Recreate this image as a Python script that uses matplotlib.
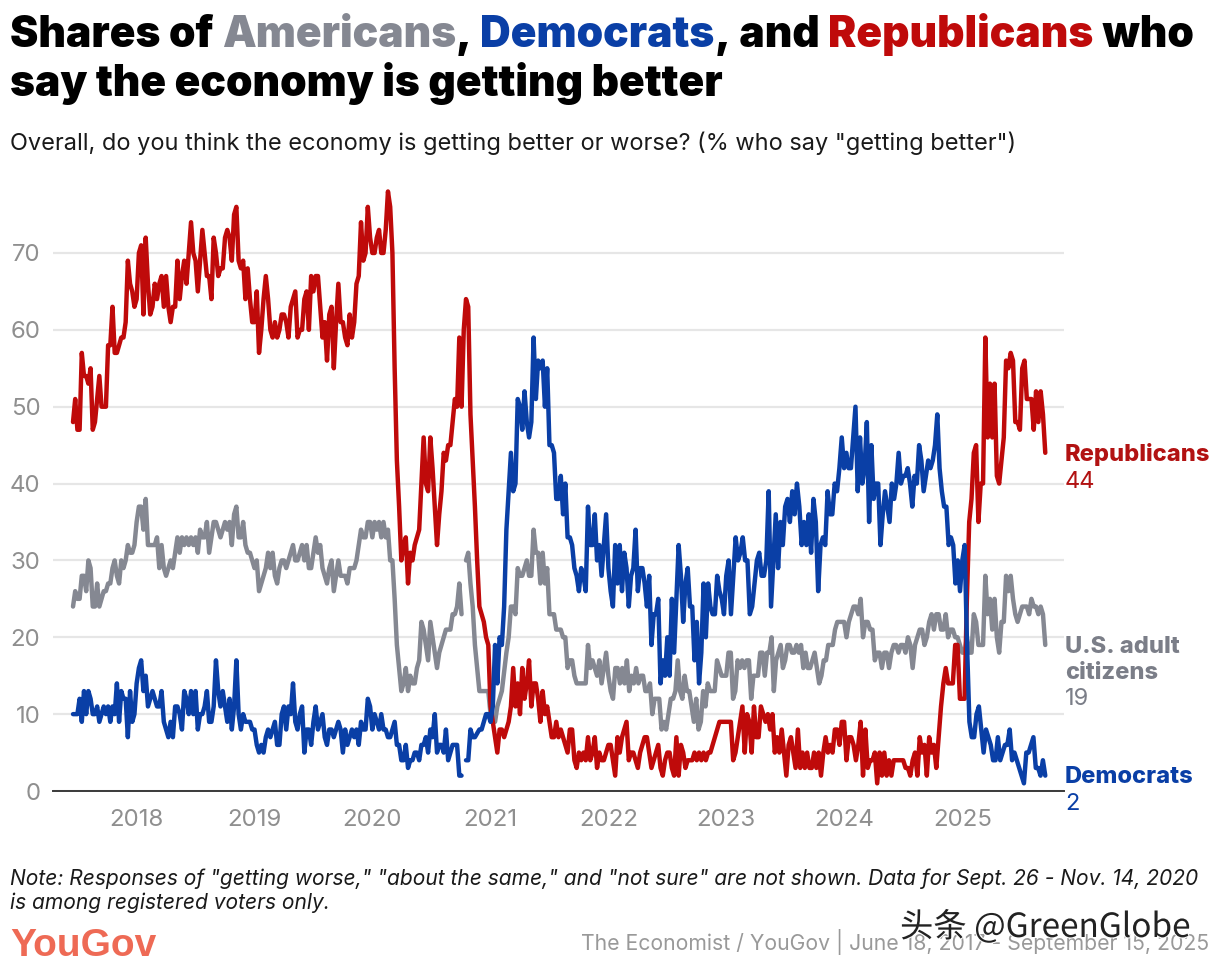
import numpy as np
import pandas as pd
import matplotlib
matplotlib.use('Agg')
import matplotlib.pyplot as plt
import matplotlib.dates as mdates
import matplotlib.patheffects as pe

nan = float('nan')

# weekly readings, one list per calendar year
rep_2017 = [48,51,47,47,57,54,54,53,55,47,48,51,54,50,50,50,58,58,63,57,57,58,59,59,61,69,66,65,63]
rep_2018 = [64,70,71,62,72,66,62,63,66,64,66,67,63,67,63,61,63,63,69,64,67,69,66,70,74,70,69,65,69,73,70,67,67,64,72,70,67,68,68,72,73,72,69,75,76,69,68,69,64,68,64,61]
rep_2019 = [61,65,57,60,64,67,64,60,59,61,59,60,62,62,61,59,63,64,65,59,60,60,64,65,60,67,65,67,67,63,59,61,56,62,63,55,61,66,61,61,59,58,62,59,61,66,67,74,69,70,76,72]
rep_2020 = [70,70,72,73,70,70,73,78,76,70,55,43,37,30,32,33,27,31,30,32,33,34,40,46,40,39,46,42,37,32,36,39,44,43,45,45,48,51,50,59,50,60,64,63,49,43,37,30,24,23,22,20,19]
rep_2021 = [11,9,7,5,8,8,7,8,9,11,16,11,14,10,16,12,14,17,11,14,14,12,9,13,10,11,9,7,7,9,7,8,7,6,5,8,8,4,3,5,4,5,4,7,4,5,7,3,5,4,4,5]
rep_2022 = [6,6,4,2,7,5,7,8,9,4,5,5,4,3,5,6,7,7,5,3,4,5,6,3,2,4,5,5,3,2,7,2,6,5,3,4,4,4,5,4,5,4,5,4,5,5,6,7,8,9,9,9]
rep_2023 = [9,9,9,4,5,7,9,11,5,10,9,5,11,7,7,11,10,9,10,8,10,5,7,5,8,5,2,6,7,5,3,8,3,5,3,5,3,3,5,3,5,2,5,7,5,6,5,8,8,6,9]
rep_2024 = [9,4,7,7,6,4,6,9,2,8,3,4,4,5,1,5,2,5,2,4,2,4,4,4,4,4,3,3,2,4,5,2,7,5,6,2,7,5,6,3,7,11,14,16,14,14,14,19,19,12]
rep_2025 = [12,12,25,35,38,44,45,35,40,40,59,46,53,46,53,41,40,43,46,56,55,57,56,48,48,47,55,56,51,51,51,47,52,48,52,49,44]

adult_2017 = [24,26,25,25,28,28,26,30,29,24,24,27,24,25,26,26,27,27,29,30,28,27,30,29,30,32,31,31,32]
adult_2018 = [35,37,37,34,38,32,32,32,32,33,29,32,29,28,29,30,29,31,33,31,33,32,33,32,33,32,33,31,34,33,33,35,31,33,35,35,34,33,34,35,34,35,32,36,37,33,33,35,32,31,31,30]
adult_2019 = [29,30,26,27,28,29,31,29,31,28,27,29,30,30,29,30,31,32,30,30,31,32,30,32,29,29,31,33,31,32,29,28,27,29,30,26,28,30,28,28,28,27,29,29,29,30,32,34,33,33,35,35]
adult_2020 = [33,35,34,35,33,35,33,34,30,30,25,19,16,13,14,16,13,15,14,14,16,17,22,21,19,17,22,20,18,16,18,19,20,21,21,21,23,23,24,27,23,nan,30,31,27,24,19,16,13,13,13,13,13]
adult_2021 = [10,9.5,9,11,12,13,15.5,18,20,24,24,23,29,28,28,29,30,28,28,34,31,31,27,31,27,29,23,23,23,21,21,21,20,20,16,17,17,15,14,14,14,14,14,19,16,17,16,15,17,14,16,18]
adult_2022 = [15,13,12,16,16,14,16,14,17,13,15,14,16,14,15,15,13,13,14,10,12,12,12,8,9,8,10,12,12,13,17,13,12,15,13,13,11,9,12,8,9,13,11,14,13,13,13,17,16,15,15]
adult_2023 = [15,18,18,12,13,17,16,17,16,17,17,12,15,15,15,18,18,15,18,18,20,13,17,18,19,16,17,19,19,18,18,19,18,19,16,18,16,16,17,18,16,14,15,17,17,19,19,19,21,22,22,22]
adult_2024 = [22,20,22,23,24,24,23,25,20,22,22,21,21,17,18,18,16,18,18,16,18,19,19,18,19,19,18,20,19,16,19,20,21,21,19,20,22,23,21,23,23,21,21,23,20,21,21,20,20,19]
adult_2025 = [18,18,20,18,18,23,22,19,19,19,28,23,25,21,25,20,18,22,22,28,26,28,25,23,22,23,24,24,24,23,25,24,24,23,24,23,19]

dem_2017 = [10,10,10,12,9,13,10,13,12,10,10,11,9,10,11,10,11,9,11,10,14,9,13,12,12,7,13,9,10]
dem_2018 = [14,16,17,13,15,11,12,13,12,11,11,13,9,8,7,9,7,11,11,10,8,13,12,10,13,10,13,8,10,10,11,13,9,9,11,17,13,11,13,11,9,12,8,11,17,10,8,10,9,9,9,8]
dem_2019 = [8,6,5,6,5,7,8,7,8,9,6,6,10,11,8,11,10,14,9,8,10,11,5,8,8,6,9,11,8,9,10,7,6,8,8,7,8,9,8,5,8,6,7,8,7,8,6,9,8,8,12,11]
dem_2020 = [8,10,9,8,10,8,8,7,7,8,9,6,6,4,4,6,3,4,4,5,5,4,6,6,7,5,8,7,10,5,6,6,5,8,4,5,6,6,6,2,2,nan,4,4,8,7,7,7.5,8,8,9,10,10]
dem_2021 = [9,11,19,14,20,19,24,34,39,44,39,40,51,50,47,52,48,46,48,59,51,56,55,56,50,55,45,45,44,38,38,41,36,40,33,33,32,29,28,26,29,28,26,37,32,32,36,30,32,28,32,36]
dem_2022 = [29,26,24,32,27,32,26,31,29,24,28,29,34,26,29,29,27,24,28,19,23,23,25,14,17,15,20,15,25,18,25,32,28,22,27,29,24,24,17,22,14,18,27,20,27,24,23,23,28,26,25,23]
dem_2023 = [28,30,23,28,33,30,31,33,30,30,23,24,27,30,31,28,28,30,39,24,30,36,29,35,32,37,38,35,39,36,40,37,32,35,32,36,31,38,35,26,32,33,32,39,36,36,40,39,42,46]
dem_2024 = [42,44,42,42,46,50,39,46,40,42,48,35,45,38,40,40,32,36,39,37,35,40,38,40,44,40,41,41,42,40,37,41,40,45,43,39,41,43,42,43,45,49,42,39,37,37,32,33,32,27,30,26]
dem_2025 = [30,32,19,9,7,7,10,11,8,5,8,7,6,4,4,7,4,5,6,6,8,4,5,4,3,2,1,5,5,6,7,3,3,2,4,2]

year_starts = ['2017-06-18','2018-01-01','2019-01-01','2020-01-01','2021-01-01','2022-01-01','2023-01-01','2024-01-01','2025-01-01','2025-09-15']
tick_years = [2018,2019,2020,2021,2022,2023,2024,2025]
y_ticks = [0,10,20,30,40,50,60,70]

RED = '#bf0a0a'
BLUE = '#0a3fa6'
GREY = '#858892'
FONT = ['Inter', 'DejaVu Sans']
W, H = 1220, 972

def series(*years):
    # spread each year's readings evenly over that year
    xs, ys = [], []
    for i, vals in enumerate(years):
        last = i == len(years) - 1
        d = pd.date_range(year_starts[i], year_starts[i + 1], periods=len(vals) + (0 if last else 1))
        xs.extend(d[:len(vals)])
        ys.extend(vals)
    return xs, ys

plt.rcParams['font.family'] = FONT
fig = plt.figure(figsize=(W / 100, H / 100), dpi=100, facecolor='white')
ax = fig.add_axes([53 / W, 1 - 791 / H, 1011 / W, 620 / H])

for vals, col in [((adult_2017, adult_2018, adult_2019, adult_2020, adult_2021, adult_2022, adult_2023, adult_2024, adult_2025), GREY),
                  ((rep_2017, rep_2018, rep_2019, rep_2020, rep_2021, rep_2022, rep_2023, rep_2024, rep_2025), RED),
                  ((dem_2017, dem_2018, dem_2019, dem_2020, dem_2021, dem_2022, dem_2023, dem_2024, dem_2025), BLUE)]:
    x, y = series(*vals)
    ax.plot(x, y, color=col, lw=3.2, solid_joinstyle='round', solid_capstyle='round', zorder=3, clip_on=False)

ax.set_xlim(pd.Timestamp('2017-04-17'), pd.Timestamp('2025-11-12'))
ax.set_ylim(0, 620 / 7.686)
ax.set_yticks(y_ticks)
ax.set_xticks([pd.Timestamp(f'{yr}-01-01') for yr in tick_years])
ax.xaxis.set_major_formatter(mdates.DateFormatter('%Y'))
ax.grid(axis='y', color='#e6e6e6', lw=1.6, zorder=0)
ax.set_axisbelow(True)
for side in ['top', 'left', 'right']:
    ax.spines[side].set_visible(False)
ax.spines['bottom'].set_color('#3a3a3a')
ax.spines['bottom'].set_linewidth(1.4)
ax.tick_params(axis='both', length=0, labelsize=17.3, labelcolor='#8f8f8f')
ax.tick_params(axis='y', pad=9)
ax.tick_params(axis='x', pad=13)

def px_text(x, y, s, **kw):
    return fig.text(x / W, 1 - y / H, s, **kw)

# title with coloured words
def run(x, y, parts):
    r = fig.canvas.get_renderer()
    for s, col in parts:
        t = px_text(x, y, s, color=col, fontsize=30.6, fontweight='black', va='baseline', ha='left')
        x += t.get_window_extent(r).width

run(10, 47, [('Shares of ', 'black'), ('Americans', GREY), (', ', 'black'), ('Democrats', BLUE),
             (', and ', 'black'), ('Republicans', RED), (' who', 'black')])
run(10, 96, [('say the economy is getting better', 'black')])

px_text(10, 150, 'Overall, do you think the economy is getting better or worse? (% who say "getting better")',
        fontsize=16.95, color='#1a1a1a', va='baseline')

# end labels
lab = dict(fontsize=17, fontweight=800, va='baseline', ha='left')
num = dict(fontsize=17, va='baseline', ha='left')
px_text(1065, 461, 'Republicans', color='#b21212', **lab)
px_text(1065, 488, '44', color='#b21212', **num)
px_text(1065, 653, 'U.S. adult', color='#7b7e88', **lab)
px_text(1065, 679, 'citizens', color='#7b7e88', **lab)
px_text(1065, 705, '19', color='#7b7e88', **num)
px_text(1065, 783, 'Democrats', color=BLUE, **lab)
px_text(1065, 810, '2', color=BLUE, **num)

# footer
px_text(10, 885, 'Note: Responses of "getting worse," "about the same," and "not sure" are not shown. Data for Sept. 26 - Nov. 14, 2020',
        fontsize=15.1, fontstyle='italic', color='#1a1a1a', va='baseline')
px_text(10, 909, 'is among registered voters only.', fontsize=15.1, fontstyle='italic', color='#1a1a1a', va='baseline')
px_text(10, 956, 'YouGov', fontsize=28, fontweight='bold', color='#ee6a55', va='baseline',
        family=['Liberation Sans Narrow', 'Liberation Sans'])
px_text(1209, 950, 'The Economist / YouGov | June 18, 2017 - September 15, 2025', fontsize=15.25, color='#999999', va='baseline', ha='right')

wm = px_text(900, 937, '头条 @GreenGlobe', fontsize=24, color='#222222', va='baseline',
             family=['Noto Sans CJK SC', 'DejaVu Sans'])
wm.set_path_effects([pe.withStroke(linewidth=1.5, foreground='white')])

fig.savefig('out.png', dpi=100)
